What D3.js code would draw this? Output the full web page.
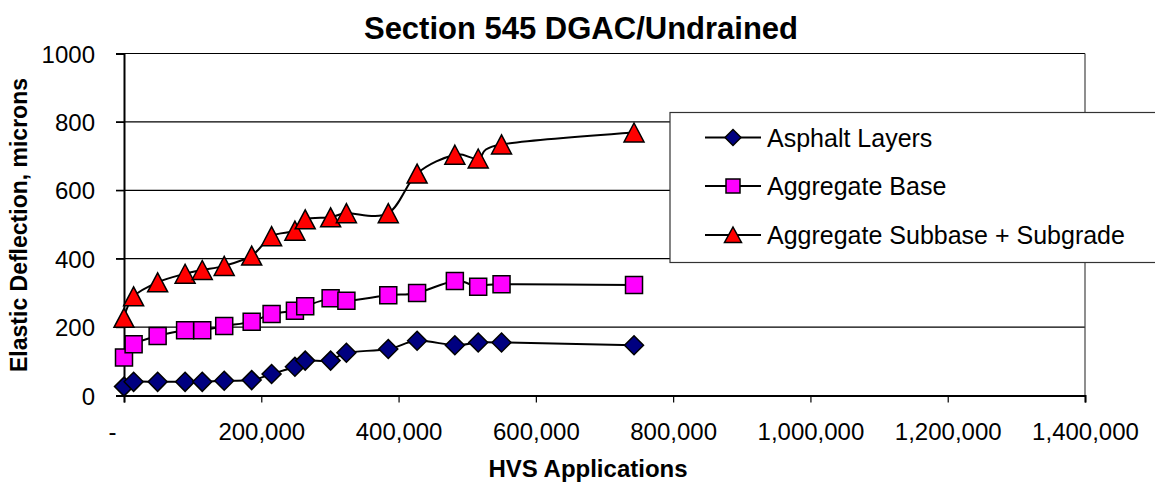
<!DOCTYPE html>
<html>
<head>
<meta charset="utf-8">
<script src="https://cdn.jsdelivr.net/npm/d3@7"></script>
<style>
  html, body { margin: 0; padding: 0; background: #fff; }
  svg { display: block; font-family: "Liberation Sans", Arial, sans-serif; }
</style>
</head>
<body>
<svg id="chart" width="1155" height="485"></svg>
<script>
// ---- data ----
const applications = [0, 14000, 49000, 89000, 114000, 146000, 186000, 215000, 249000, 264000, 301000, 324000, 385000, 427000, 482000, 516000, 550000, 743000];
const asphaltLayers = [26, 40, 40, 40, 40, 43, 45, 63, 84, 102, 102, 125, 136, 160, 147, 155, 155, 147];
const aggregateBase = [111, 150, 174, 191, 191, 203, 216, 238, 248, 261, 284, 277, 293, 300, 335, 318, 325, 323];
const subbaseSubgrade = [227, 290, 331, 356, 367, 379, 409, 466, 482, 515, 521, 533, 533, 649, 704, 693, 734, 769];
const seriesNames = ["Asphalt Layers", "Aggregate Base", "Aggregate Subbase + Subgrade"];
const xTickValues = [0, 200000, 400000, 600000, 800000, 1000000, 1200000, 1400000];
const yTickValues = [0, 200, 400, 600, 800, 1000];
const titleText = "Section 545 DGAC/Undrained";
const xTitle = "HVS Applications";
const yTitle = "Elastic Deflection, microns";

// ---- layout ----
const svg = d3.select("#chart");
const L = 124, R = 1085, T = 53.5, B = 395.5;
const x = d3.scaleLinear().domain([0, 1400000]).range([L, R]);
const y = d3.scaleLinear().domain([0, 1000]).range([B, T]);

const shapes = {
  diamond: "M0,-9.5L9.5,0L0,9.5L-9.5,0Z",
  square: "M-8.5,-8.5H8.5V8.5H-8.5Z",
  triangle: "M0,-9.5L10,9.5L-10,9.5Z"
};
const legendShapes = {
  diamond: "M0,-8L8,0L0,8L-8,0Z",
  square: "M-7,-7H7V7H-7Z",
  triangle: "M0,-8L8.5,7.5L-8.5,7.5Z"
};
const series = [
  { name: seriesNames[0], values: asphaltLayers, fill: "#000080", shape: "diamond" },
  { name: seriesNames[1], values: aggregateBase, fill: "#FF00FF", shape: "square" },
  { name: seriesNames[2], values: subbaseSubgrade, fill: "#FF0000", shape: "triangle" }
];

// gridlines
svg.append("g").selectAll("line").data(yTickValues.filter(d => d > 0)).join("line")
  .attr("x1", L - 8).attr("x2", R)
  .attr("y1", d => y(d)).attr("y2", d => y(d))
  .attr("stroke", "#000").attr("stroke-width", 1.2);
// right border
svg.append("line").attr("x1", R).attr("x2", R).attr("y1", T).attr("y2", B)
  .attr("stroke", "#444").attr("stroke-width", 1.2);

// y axis
const yAxis = d3.axisLeft(y).tickValues(yTickValues).tickSize(8).tickFormat(d3.format("d"));
const gy = svg.append("g").attr("transform", `translate(${L},0)`).call(yAxis);
gy.select(".domain").attr("stroke", "#000").attr("stroke-width", 2);
gy.selectAll(".tick line").attr("stroke", "#000").attr("stroke-width", 1.2);
gy.selectAll(".tick text").attr("font-size", 24).attr("fill", "#000")
  .attr("x", -29).attr("dy", "0.36em");

// x axis
const xAxis = d3.axisBottom(x).tickValues(xTickValues).tickSize(7)
  .tickFormat(d => d === 0 ? "-" : d3.format(",")(d));
const gx = svg.append("g").attr("transform", `translate(0,${B})`).call(xAxis);
gx.select(".domain").attr("stroke", "#000").attr("stroke-width", 2);
gx.selectAll(".tick line").attr("stroke", "#000").attr("stroke-width", 1.2);
gx.selectAll(".tick text").attr("font-size", 24).attr("fill", "#000")
  .attr("y", 44).attr("dy", 0);
gx.selectAll(".tick text").filter(d => d === 0).attr("dx", -12);

// series
const line = d3.line().x((d, i) => x(applications[i])).y(d => y(d)).curve(d3.curveCatmullRom.alpha(0));
series.forEach(s => {
  const g = svg.append("g");
  g.append("path").attr("d", line(s.values)).attr("fill", "none")
    .attr("stroke", "#000").attr("stroke-width", 2);
  g.selectAll("path.m").data(s.values).join("path").attr("class", "m")
    .attr("d", shapes[s.shape])
    .attr("transform", (d, i) => `translate(${x(applications[i])},${y(d)})`)
    .attr("fill", s.fill).attr("stroke", "#000").attr("stroke-width", 1.5);
});

// legend
const lg = svg.append("g");
lg.append("rect").attr("x", 670).attr("y", 112.5).attr("width", 500).attr("height", 150)
  .attr("fill", "#fff").attr("stroke", "#333").attr("stroke-width", 1.2);
const rowY = [137.5, 186, 235];
series.forEach((s, i) => {
  lg.append("line").attr("x1", 705).attr("x2", 761).attr("y1", rowY[i]).attr("y2", rowY[i])
    .attr("stroke", "#000").attr("stroke-width", 2);
  lg.append("path").attr("d", legendShapes[s.shape])
    .attr("transform", `translate(733,${rowY[i]})`)
    .attr("fill", s.fill).attr("stroke", "#000").attr("stroke-width", 1.5);
  lg.append("text").attr("x", 767).attr("y", rowY[i] + 9).attr("font-size", 25)
    .attr("fill", "#000").text(s.name);
});

// titles
svg.append("text").attr("x", 581).attr("y", 39).attr("text-anchor", "middle")
  .attr("font-size", 31).attr("font-weight", "bold").text(titleText);
svg.append("text").attr("x", 588).attr("y", 477).attr("text-anchor", "middle")
  .attr("font-size", 24).attr("font-weight", "bold").text(xTitle);
svg.append("text").attr("transform", "translate(27,225) rotate(-90)").attr("text-anchor", "middle")
  .attr("font-size", 23).attr("font-weight", "bold").text(yTitle);
</script>
</body>
</html>
